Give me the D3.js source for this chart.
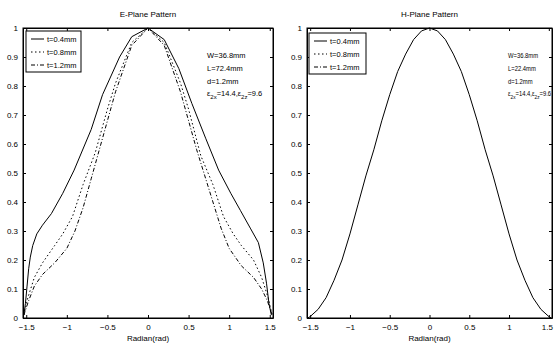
<!DOCTYPE html>
<html><head><meta charset="utf-8">
<script src="https://cdn.jsdelivr.net/npm/d3@7"></script>
<style>body{margin:0;background:#fff}svg{display:block}text{font-family:"Liberation Sans",Arial,sans-serif;fill:#000}</style>
</head><body><svg id="c" width="554" height="345"></svg>
<script>
// ---- data ----
const xTicks = [-1.5, -1, -0.5, 0, 0.5, 1, 1.5];
const yTicks = [0, 0.1, 0.2, 0.3, 0.4, 0.5, 0.6, 0.7, 0.8, 0.9, 1];
const legendLabels = ["t=0.4mm", "t=0.8mm", "t=1.2mm"];
const eTitle = "E-Plane Pattern", hTitle = "H-Plane Pattern";
const xLabel = "Radian(rad)";
const eNotes = ["W=36.8mm", "L=72.4mm", "d=1.2mm"];
const hNotes = ["W=36.8mm", "L=22.4mm", "d=1.2mm"];

// E-plane, t=0.4mm (solid)
const eT04x = [-1.53,-1.51,-1.49,-1.47,-1.45,-1.42,-1.37,-1.30,-1.19,-1.05,-0.91,-0.70,-0.56,-0.35,-0.20,0,0.20,0.38,0.54,0.71,0.87,1.02,1.14,1.26,1.36,1.42,1.46,1.49,1.52];
const eT04y = [0.01,0.05,0.11,0.17,0.21,0.25,0.29,0.32,0.36,0.43,0.51,0.65,0.77,0.90,0.97,1,0.96,0.86,0.74,0.62,0.51,0.43,0.37,0.31,0.26,0.19,0.12,0.05,0.01];
// E-plane, t=0.8mm (dotted)
const eT08x = [-1.53,-1.48,-1.40,-1.30,-1.15,-1.05,-0.93,-0.80,-0.65,-0.50,-0.40,-0.20,0,0.20,0.40,0.50,0.65,0.80,0.93,1.05,1.15,1.30,1.40,1.48,1.53];
const eT08y = [0.01,0.07,0.14,0.19,0.25,0.29,0.35,0.46,0.57,0.72,0.81,0.95,1,0.95,0.81,0.72,0.56,0.46,0.35,0.29,0.25,0.20,0.14,0.07,0.01];
// E-plane, t=1.2mm (dash-dot)
const eT12x = [-1.53,-1.47,-1.40,-1.30,-1.15,-1.00,-0.90,-0.80,-0.70,-0.60,-0.50,-0.40,-0.20,0,0.20,0.40,0.50,0.60,0.70,0.80,0.90,1.00,1.15,1.30,1.40,1.47,1.53];
const eT12y = [0.01,0.06,0.11,0.15,0.19,0.24,0.30,0.38,0.48,0.58,0.68,0.78,0.94,1,0.94,0.78,0.68,0.58,0.49,0.40,0.31,0.24,0.18,0.14,0.10,0.06,0.01];
// H-plane (all thicknesses coincide)
const hX = [-1.53,-1.5,-1.4,-1.3,-1.2,-1.1,-1.0,-0.9,-0.8,-0.7,-0.6,-0.5,-0.4,-0.3,-0.2,-0.1,0,0.1,0.2,0.3,0.4,0.5,0.6,0.7,0.8,0.9,1.0,1.1,1.2,1.3,1.4,1.5,1.53];
const hY = [0.0,0.005,0.03,0.07,0.13,0.2,0.29,0.39,0.49,0.58,0.68,0.77,0.85,0.91,0.96,0.99,1,0.99,0.96,0.91,0.85,0.77,0.68,0.58,0.49,0.39,0.29,0.2,0.13,0.07,0.03,0.005,0.0];

const dashes = [null, "1.5,2.5", "4,2,1,2"];

const svg = d3.select("#c");

function panel(o) {
  const x = d3.scaleLinear().domain([-1.54, 1.54]).range([o.x0, o.x1]);
  const y = d3.scaleLinear().domain([0, 1]).range([318, 28]);
  const g = svg.append("g");
  g.append("rect").attr("x", o.x0).attr("y", 28).attr("width", o.x1 - o.x0).attr("height", 290)
    .attr("fill", "none").attr("stroke", "#000").attr("stroke-width", 1);
  const bx = g.append("g").attr("transform", "translate(0,318)")
    .call(d3.axisBottom(x).tickValues(xTicks).tickSizeInner(-3).tickSizeOuter(0).tickPadding(6).tickFormat(d3.format("")));
  const tx = g.append("g").attr("transform", "translate(0,28)")
    .call(d3.axisTop(x).tickValues(xTicks).tickSizeInner(-3).tickSizeOuter(0).tickFormat(""));
  const ly = g.append("g").attr("transform", `translate(${o.x0},0)`)
    .call(d3.axisLeft(y).tickValues(yTicks).tickSizeInner(-3).tickSizeOuter(0).tickPadding(5).tickFormat(d3.format("")));
  const ry = g.append("g").attr("transform", `translate(${o.x1},0)`)
    .call(d3.axisRight(y).tickValues(yTicks).tickSizeInner(-3).tickSizeOuter(0).tickFormat(""));
  [bx, tx, ly, ry].forEach(a => {
    a.select(".domain").attr("stroke", "#000");
    a.selectAll("text").attr("font-size", 8).attr("font-family", "Liberation Sans, Arial, sans-serif").attr("fill", "#000");
  });
  if (o.shiftLast) bx.selectAll(".tick").filter(d => d === 1.5).select("text").attr("dx", o.shiftLast);
  g.append("text").attr("x", x(0)).attr("y", 17).attr("text-anchor", "middle").attr("font-size", 8).text(o.title);
  g.append("text").attr("x", x(0)).attr("y", 341).attr("text-anchor", "middle").attr("font-size", 8).text(xLabel);
  const line = d3.line().x(d => x(d[0])).y(d => y(d[1]));
  o.series.forEach(s => {
    g.append("path").datum(d3.zip(s[0], s[1])).attr("d", line).attr("fill", "none")
      .attr("stroke", "#000").attr("stroke-width", 1).attr("stroke-dasharray", dashes[s[2]]);
  });
  const lg = g.append("g");
  lg.append("rect").attr("x", o.lx).attr("y", o.ly).attr("width", o.lw).attr("height", 41)
    .attr("fill", "#fff").attr("stroke", "#000").attr("stroke-width", 1);
  legendLabels.forEach((t, i) => {
    const yy = o.ly + 8 + i * 13;
    lg.append("line").attr("x1", o.lx + 5).attr("x2", o.lx + 18).attr("y1", yy).attr("y2", yy)
      .attr("stroke", "#000").attr("stroke-width", 1).attr("stroke-dasharray", dashes[i]);
    lg.append("text").attr("x", o.lx + 21).attr("y", yy + 3).attr("font-size", 7.5).text(t);
  });
  const ng = g.append("g").attr("transform", `translate(${o.nx},0) scale(${o.sx},1)`);
  o.notes.forEach((t, i) => {
    ng.append("text").attr("x", 0).attr("y", 58 + i * 13).attr("font-size", 7.5).text(t);
  });
  const eps = ng.append("text").attr("x", 0).attr("y", 58 + 3 * 13 - 1).attr("font-size", 7.5);
  eps.append("tspan").text("ε");
  eps.append("tspan").attr("dy", 3).attr("font-size", 6).text("2x");
  eps.append("tspan").attr("dy", -3).text("=14.4,ε");
  eps.append("tspan").attr("dy", 3).attr("font-size", 6).text("2z");
  eps.append("tspan").attr("dy", -3).text("=9.6");
}

panel({x0: 23, x1: 273, title: eTitle, notes: eNotes, nx: 207, sx: 1, lx: 26, ly: 31, lw: 55,
  series: [[eT04x, eT04y, 0], [eT08x, eT08y, 1], [eT12x, eT12y, 2]]});
panel({x0: 307, x1: 552, title: hTitle, notes: hNotes, nx: 508, sx: 0.78, lx: 309, ly: 33, lw: 57, shiftLast: -2,
  series: [[hX, hY, 0]]});
</script></body></html>
